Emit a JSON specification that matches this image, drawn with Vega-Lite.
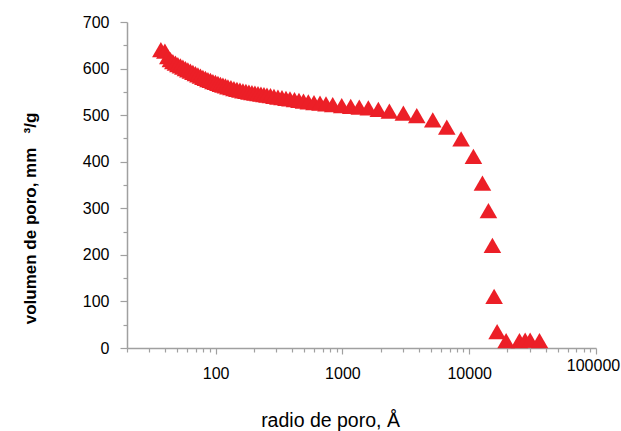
{
  "$schema": "https://vega.github.io/schema/vega-lite/v6.json",
  "autosize": {"type": "none"},
  "width": 469,
  "height": 326,
  "padding": {"left": 127, "top": 22, "right": 25, "bottom": 83},
  "background": "white",
  "config": {
    "view": {"stroke": null},
    "font": "Liberation Sans",
    "axis": {"grid": false, "domainColor": "#a0a0a0", "tickColor": "#a0a0a0", "domainWidth": 1.5, "tickWidth": 1.2, "labelColor": "#000", "titleColor": "#000", "labelFont": "Liberation Sans", "titleFont": "Liberation Sans"}
  },
  "data": {
    "values": [
      {"r": 37.0, "v": 640.5}, {"r": 39.8, "v": 637.3}, {"r": 42.0, "v": 625.5}, {"r": 44.0, "v": 619.0},
      {"r": 46.0, "v": 614.7}, {"r": 48.2, "v": 611.7}, {"r": 50.4, "v": 608.7}, {"r": 52.8, "v": 605.7},
      {"r": 55.2, "v": 602.9}, {"r": 57.8, "v": 600.1}, {"r": 60.4, "v": 597.3}, {"r": 63.2, "v": 594.3},
      {"r": 66.2, "v": 591.6}, {"r": 69.3, "v": 589.0}, {"r": 72.5, "v": 586.4}, {"r": 75.9, "v": 583.8},
      {"r": 79.4, "v": 581.2}, {"r": 83.1, "v": 578.9}, {"r": 87.0, "v": 576.5}, {"r": 91.0, "v": 574.4},
      {"r": 95.2, "v": 572.2}, {"r": 99.6, "v": 570.1}, {"r": 104.3, "v": 568.2}, {"r": 109.1, "v": 566.2},
      {"r": 114.2, "v": 564.3}, {"r": 119.5, "v": 562.6}, {"r": 125.1, "v": 560.9}, {"r": 132.1, "v": 558.9},
      {"r": 139.5, "v": 557.0}, {"r": 147.3, "v": 555.3}, {"r": 155.5, "v": 553.6}, {"r": 164.2, "v": 552.1},
      {"r": 173.4, "v": 550.8}, {"r": 183.1, "v": 549.5}, {"r": 193.4, "v": 548.4}, {"r": 204.2, "v": 547.3},
      {"r": 215.8, "v": 546.2}, {"r": 227.8, "v": 545.2}, {"r": 240.6, "v": 544.1}, {"r": 254.1, "v": 543.0},
      {"r": 270.7, "v": 541.7}, {"r": 288.5, "v": 540.4}, {"r": 310.1, "v": 538.9}, {"r": 333.7, "v": 537.4},
      {"r": 358.8, "v": 535.9}, {"r": 385.8, "v": 534.7}, {"r": 418.8, "v": 533.2}, {"r": 454.4, "v": 531.7},
      {"r": 493.2, "v": 530.2}, {"r": 538.3, "v": 528.6}, {"r": 596.8, "v": 527.1}, {"r": 665.7, "v": 525.6},
      {"r": 742.3, "v": 524.1}, {"r": 838.5, "v": 522.4}, {"r": 987.4, "v": 520.3}, {"r": 1163, "v": 518.6},
      {"r": 1359, "v": 517.0}, {"r": 1601, "v": 515.5}, {"r": 1920, "v": 512.5}, {"r": 2346, "v": 508.5},
      {"r": 3025, "v": 504.2}, {"r": 3858, "v": 499.2}, {"r": 5160, "v": 489.8}, {"r": 6656, "v": 474.1},
      {"r": 8632, "v": 449.0}, {"r": 10795, "v": 411.2}, {"r": 12716, "v": 353.9}, {"r": 14180, "v": 295.2},
      {"r": 15244, "v": 220.1}, {"r": 15722, "v": 110.6}, {"r": 16603, "v": 35.0}, {"r": 19548, "v": 16},
      {"r": 24900, "v": 16}, {"r": 27620, "v": 17}, {"r": 30240, "v": 17}, {"r": 35830, "v": 16}
    ]
  },
  "mark": {"type": "point", "shape": "triangle-up", "filled": true, "size": 310, "color": "#ec1f27", "opacity": 1},
  "encoding": {
    "x": {
      "field": "r", "type": "quantitative",
      "scale": {"type": "log", "domain": [20, 100000], "nice": false},
      "axis": {
        "title": "radio de poro, Å",
        "titleFontSize": 19.5, "titleFontWeight": "normal",
        "titleX": 203, "titleY": 63, "titleAlign": "center", "titleBaseline": "top",
        "values": [20,30,40,50,60,70,80,90,100,200,300,400,500,600,700,800,900,1000,2000,3000,4000,5000,6000,7000,8000,9000,10000,20000,30000,40000,50000,60000,70000,80000,90000,100000],
        "format": "d",
        "labelExpr": "(datum.value == 100 || datum.value == 1000 || datum.value == 10000 || datum.value == 100000) ? datum.label : ''",
        "labelFontSize": 16, "labelFlush": false, "labelBound": false, "labelOverlap": false,
        "labelPadding": {"condition": {"test": "datum.value == 100000", "value": 3}, "value": 11},
        "labelOffset": {"condition": {"test": "datum.value == 100000", "value": -3}, "value": 0},
        "tickSize": {"condition": {"test": "datum.value == 100 || datum.value == 1000 || datum.value == 10000 || datum.value == 100000", "value": 6}, "value": 4}
      }
    },
    "y": {
      "field": "v", "type": "quantitative",
      "scale": {"domain": [0, 700], "nice": false},
      "axis": {
        "title": "volumen de poro, mm \u00a0\u00a0³/g",
        "titleFontSize": 17, "titleFontWeight": "bold",
        "titleX": -97, "titleY": 196, "titleAlign": "center", "titleBaseline": "middle", "titleAngle": -90,
        "values": [0,50,100,150,200,250,300,350,400,450,500,550,600,650,700],
        "labelExpr": "datum.value % 100 == 0 ? datum.label : ''",
        "labelFontSize": 16, "labelPadding": 11, "labelFlush": false, "labelOverlap": false,
        "tickSize": {"condition": {"test": "datum.value % 100 == 0", "value": 7}, "value": 4}
      }
    }
  }
}
